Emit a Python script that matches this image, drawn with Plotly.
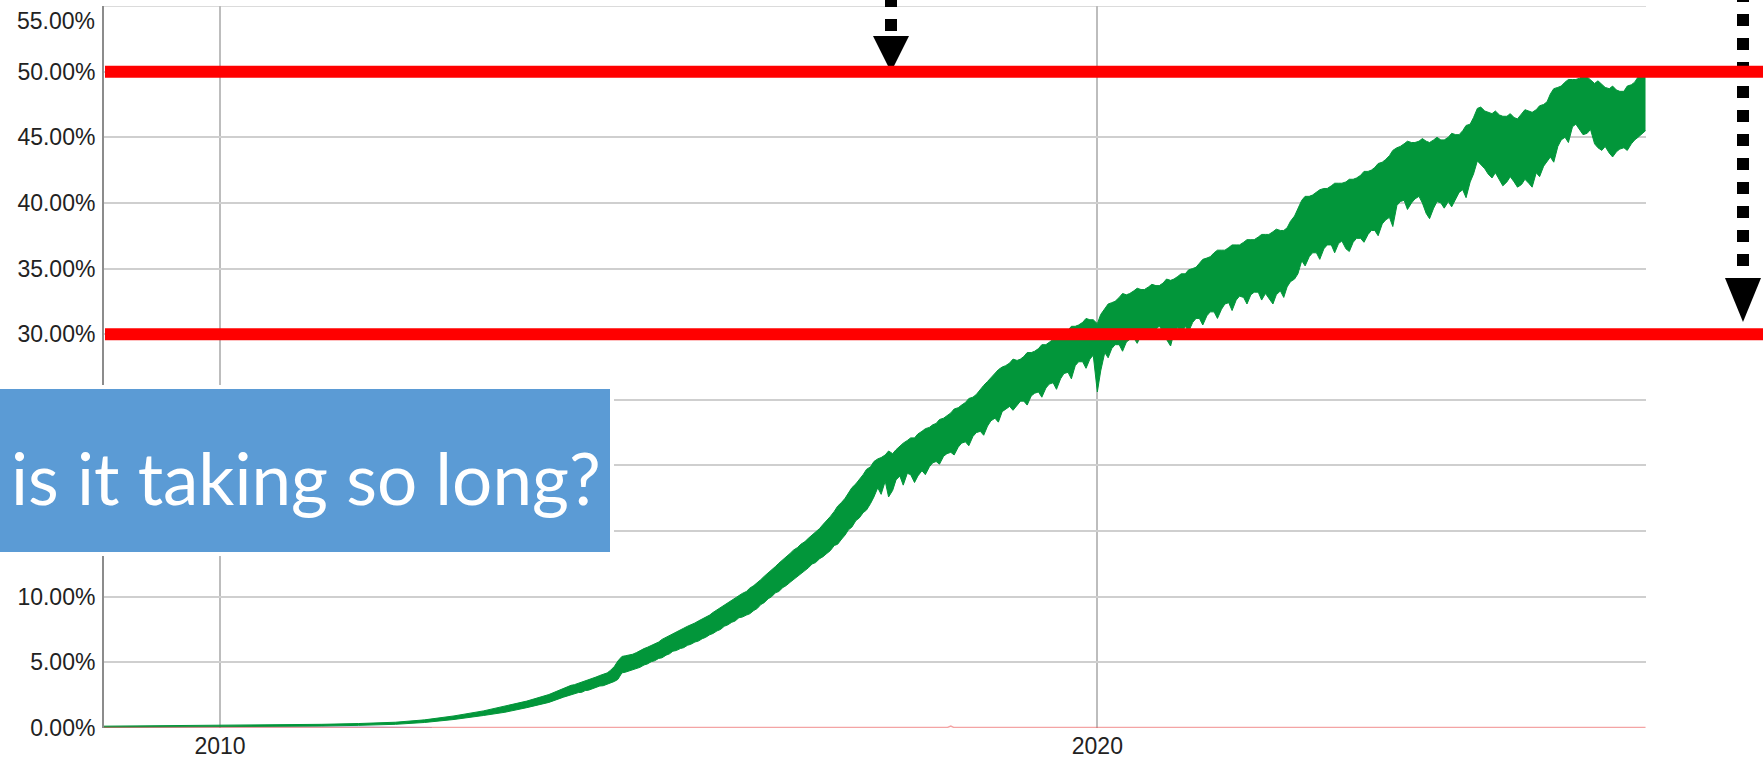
import plotly.graph_objects as go

# ---------------- data ----------------
# early period, irregular dates
early_dates = ["2008-09-05","2009-02-01","2009-07-01","2009-12-01","2010-05-01","2010-10-01",
               "2011-03-01","2011-08-01","2012-01-01","2012-05-01","2012-09-01","2013-01-01",
               "2013-04-01","2013-07-01","2013-10-01","2013-12-01"]
early_low  = [0.05,0.06,0.08,0.09,0.10,0.12,0.15,0.20,0.28,0.42,0.65,0.95,1.20,1.55,1.95,2.35]
early_high = [0.14,0.16,0.17,0.20,0.22,0.24,0.28,0.34,0.44,0.62,0.92,1.30,1.65,2.05,2.55,3.05]

# envelope on the 1st of each month, Jan 2014 .. Apr 2026
monthly_low = [
    2.55,2.70,2.85,3.00,3.20,3.35,3.55,4.20,4.35,4.55,4.80,5.05,          # 2014
    5.30,5.55,5.85,6.05,6.30,6.55,6.80,7.10,7.40,7.75,8.05,8.40,          # 2015
    8.60,8.95,9.40,9.85,10.30,10.70,11.10,11.55,12.00,12.50,12.90,13.30,  # 2016
    13.90,14.40,15.10,15.80,16.40,17.10,18.30,18.80,18.10,19.20,19.40,18.70,  # 2017
    19.60,19.90,20.30,20.70,21.00,21.40,21.80,22.20,22.60,23.00,23.60,24.10,  # 2018
    24.50,24.60,24.90,25.30,25.60,25.90,26.30,26.60,27.10,27.60,27.90,28.10,  # 2019
    25.60,28.60,28.90,29.20,29.40,29.70,29.90,30.10,30.40,30.20,29.10,30.50,  # 2020
    30.60,30.90,31.20,31.40,31.70,31.90,32.40,32.60,32.80,33.00,33.20,33.10,  # 2021
    32.30,33.30,33.60,34.20,35.60,35.90,36.20,36.50,36.80,36.90,36.50,37.00,  # 2022
    37.30,37.60,37.90,38.40,38.90,39.80,40.20,40.00,40.50,39.20,39.60,40.00,  # 2023
    40.10,40.30,41.00,41.60,43.20,42.60,41.90,41.80,41.60,41.60,41.40,41.50,  # 2024
    42.30,42.80,43.50,44.30,45.00,45.80,45.60,45.30,44.50,44.00,43.80,43.90,  # 2025
    44.20,44.50,45.00,45.50]                                                # 2026
monthly_high = [
    3.25,3.40,3.60,3.80,4.00,4.20,4.70,5.45,5.55,5.75,6.05,6.30,          # 2014
    6.55,6.90,7.20,7.45,7.75,8.00,8.30,8.60,9.00,9.40,9.75,10.10,         # 2015
    10.40,10.85,11.30,11.80,12.30,12.80,13.30,13.75,14.20,14.70,15.20,15.80,  # 2016
    16.50,17.20,17.90,18.60,19.30,19.90,20.50,20.80,20.90,21.50,21.90,22.10,  # 2017
    22.60,22.90,23.20,23.60,24.00,24.40,24.80,25.20,25.80,26.40,27.00,27.50,  # 2018
    27.80,28.00,28.30,28.60,28.90,29.20,29.60,29.90,30.30,30.60,30.90,31.10,  # 2019
    30.80,31.90,32.40,32.80,33.00,33.30,33.40,33.60,33.70,33.90,34.10,34.40,  # 2020
    34.60,35.00,35.40,35.80,36.20,36.40,36.60,36.80,37.00,37.20,37.40,37.60,  # 2021
    37.80,37.90,38.10,39.00,40.20,40.50,40.80,41.10,41.30,41.50,41.60,41.80,  # 2022
    42.10,42.40,42.70,43.10,43.60,44.20,44.50,44.60,44.70,44.70,44.80,44.80,  # 2023
    45.00,45.20,45.50,46.00,47.20,47.00,46.80,46.70,46.60,46.50,46.80,47.00,  # 2024
    47.10,47.50,48.30,48.80,49.20,49.40,49.50,49.60,49.10,49.00,48.70,48.60,  # 2025
    48.50,49.00,49.60,50.00]                                                # 2026

# envelope on the 15th of each month, Jan 2014 .. Mar 2026 (weekly swings)
mid_low = [
    2.58,2.72,2.88,3.05,3.22,3.40,3.70,4.25,4.40,4.62,4.88,5.12,          # 2014
    5.35,5.65,5.90,6.12,6.38,6.62,6.90,7.20,7.50,7.85,8.15,8.45,          # 2015
    8.70,9.10,9.55,10.00,10.40,10.85,11.30,11.70,12.20,12.60,13.05,13.50, # 2016
    14.00,14.70,15.30,16.00,16.60,17.60,17.80,17.60,18.90,18.50,19.30,19.20,  # 2017
    19.30,20.20,20.10,20.90,20.80,21.70,21.50,22.50,22.30,23.40,23.30,24.30,  # 2018
    24.20,24.90,24.60,25.50,25.20,26.20,25.80,27.00,26.60,27.90,27.40,28.40,  # 2019
    27.20,28.20,29.20,28.70,29.60,29.30,30.20,29.70,30.60,29.60,30.10,30.00,  # 2020
    30.20,31.20,30.70,31.70,31.20,32.30,31.80,32.90,32.30,33.20,32.60,32.70,  # 2021
    33.00,32.80,34.00,34.60,35.20,36.20,35.70,36.80,36.20,37.10,36.30,37.30,  # 2022
    37.00,37.90,37.50,38.70,38.20,40.10,39.50,40.30,40.00,38.80,40.10,39.60,  # 2023
    39.70,40.80,40.40,42.20,42.90,42.20,42.30,41.30,42.00,41.20,41.80,41.20,  # 2024
    42.00,43.20,43.10,44.80,44.60,46.00,45.20,45.60,44.20,44.30,43.50,44.10,  # 2025
    44.00,44.80,45.20]                                                      # 2026
mid_high = [
    3.30,3.48,3.68,3.88,4.08,4.40,5.10,5.50,5.62,5.90,6.15,6.42,          # 2014
    6.75,7.05,7.30,7.60,7.85,8.15,8.45,8.80,9.20,9.55,9.95,10.25,         # 2015
    10.65,11.05,11.55,12.05,12.55,13.05,13.55,14.00,14.45,14.95,15.50,16.10,  # 2016
    16.90,17.50,18.30,18.90,19.70,20.30,20.60,21.10,21.20,21.70,22.10,22.40,  # 2017
    22.80,23.10,23.50,23.80,24.30,24.60,25.10,25.40,26.10,26.70,27.30,27.60,  # 2018
    28.10,28.10,28.60,28.70,29.20,29.40,29.90,30.10,30.60,30.70,31.20,31.10,  # 2019
    31.50,32.30,32.50,33.10,33.10,33.50,33.40,33.80,33.70,34.20,34.20,34.60,  # 2020
    34.90,35.10,35.70,35.90,36.40,36.40,36.80,36.80,37.20,37.20,37.60,37.60,  # 2021
    38.00,37.90,38.60,39.60,40.50,40.60,41.00,41.10,41.50,41.50,41.80,41.90,  # 2022
    42.40,42.50,43.00,43.30,44.00,44.30,44.70,44.60,44.90,44.60,45.00,44.80,  # 2023
    45.30,45.20,45.90,46.50,47.30,46.90,47.00,46.60,46.80,46.40,47.10,46.90,  # 2024
    47.40,47.70,48.70,48.90,49.40,49.40,49.70,49.40,49.30,48.80,48.90,48.50,  # 2025
    48.90,49.20,49.90]                                                      # 2026

# interleave 1st-of-month and 15th-of-month readings
dates, ipv6_low, ipv6_high = list(early_dates), list(early_low), list(early_high)
for i in range(len(monthly_low)):
    yr, mo = 2014 + i // 12, i % 12 + 1
    dates.append("%d-%02d-01" % (yr, mo))
    ipv6_low.append(monthly_low[i])
    ipv6_high.append(monthly_high[i])
    if i < len(mid_low):
        dates.append("%d-%02d-15" % (yr, mo))
        ipv6_low.append(mid_low[i])
        ipv6_high.append(mid_high[i])

# faint secondary series near zero
other_dates = ["2008-09-05","2010-01-01","2012-01-01","2014-01-01","2016-01-01",
               "2018-04-15","2018-05-01","2018-05-15","2020-01-01","2023-01-01","2026-04-01"]
other_red = [0.03,0.03,0.03,0.03,0.03,0.03,0.15,0.03,0.03,0.03,0.03]
blue_dates = ["2008-09-05","2009-06-01","2010-03-01","2011-01-01","2011-09-01","2012-06-01"]
blue_vals = [0.06,0.09,0.12,0.10,0.07,0.02]

y_ticks = [0,5,10,15,20,25,30,35,40,45,50]
hidden_ticks = [15, 20, 25]          # covered by the blue box in the picture
y_tick_text = ["" if v in hidden_ticks else "%.2f%%" % v for v in y_ticks]
top_label = "55.00%"
y_max = 55
x_ticks = ["2010-01-01","2020-01-01"]
x_tick_text = ["2010","2020"]
ref_lines = [50, 30]
box_text = "is it taking so long?"

# ---------------- layout geometry (pixels) ----------------
W, H = 1763, 759
L, R, T, B = 104, 117, 6, 31
PW, PH = W - L - R, H - T - B

def px(x):
    return (x - L) / PW

def py(y):
    return (H - B - y) / PH

GREEN = "#02963A"
TICKFONT = dict(family="Liberation Sans, Arial, sans-serif", size=23, color="#222")

fig = go.Figure()
fig.add_trace(go.Scatter(x=blue_dates, y=blue_vals, mode="lines",
                         line=dict(color="rgba(120,150,230,0.45)", width=1.5),
                         hoverinfo="skip", showlegend=False))
fig.add_trace(go.Scatter(x=dates, y=ipv6_low, mode="lines",
                         line=dict(color=GREEN, width=1), showlegend=False))
fig.add_trace(go.Scatter(x=dates, y=ipv6_high, mode="lines", fill="tonexty",
                         fillcolor=GREEN, line=dict(color=GREEN, width=1),
                         showlegend=False))
fig.add_trace(go.Scatter(x=other_dates, y=other_red, mode="lines",
                         line=dict(color="rgba(235,90,90,0.55)", width=1.5),
                         hoverinfo="skip", showlegend=False))

shapes = []
# top gridline (55%)
shapes.append(dict(type="line", xref="paper", yref="y", x0=0, x1=1, y0=y_max, y1=y_max,
                   line=dict(color="#CFCFCF", width=1.5), layer="below"))
# dotted arrows (drawn first so red lines cover them)
dash = "12px,12px"
shapes.append(dict(type="line", xref="paper", yref="paper",
                   x0=px(891), x1=px(891), y0=py(-5), y1=py(31),
                   line=dict(color="black", width=12, dash=dash), layer="above"))
shapes.append(dict(type="path", xref="paper", yref="paper",
                   path="M %f %f L %f %f L %f %f Z" % (px(873), py(36), px(909), py(36), px(891), py(72)),
                   fillcolor="black", line=dict(width=0), layer="above"))
shapes.append(dict(type="line", xref="paper", yref="paper",
                   x0=px(1743), x1=px(1743), y0=py(-10), y1=py(266),
                   line=dict(color="black", width=12, dash=dash), layer="above"))
shapes.append(dict(type="path", xref="paper", yref="paper",
                   path="M %f %f L %f %f L %f %f Z" % (px(1725), py(278), px(1761), py(278), px(1743), py(322)),
                   fillcolor="black", line=dict(width=0), layer="above"))
# red reference lines
for v in ref_lines:
    shapes.append(dict(type="line", xref="paper", yref="y",
                       x0=px(105), x1=px(W + 5), y0=v, y1=v,
                       line=dict(color="#FF0000", width=12), layer="above"))
# blue text box with white surround
shapes.append(dict(type="rect", xref="paper", yref="paper",
                   x0=px(-5), x1=px(614), y0=py(385), y1=py(556),
                   fillcolor="white", line=dict(width=0), layer="above"))
shapes.append(dict(type="rect", xref="paper", yref="paper",
                   x0=px(-5), x1=px(610), y0=py(389), y1=py(552),
                   fillcolor="#5B9BD5", line=dict(width=0), layer="above"))

fig.update_layout(
    width=W, height=H,
    margin=dict(l=L, r=R, t=T, b=B, pad=0, autoexpand=False),
    paper_bgcolor="white", plot_bgcolor="white",
    shapes=shapes,
    annotations=[
        dict(text=box_text, xref="paper", yref="paper",
             x=px(9), y=py(477), xanchor="left", yanchor="middle", showarrow=False,
             font=dict(family="Lato, Open Sans, sans-serif", size=71, color="white")),
        dict(text=top_label, xref="paper", yref="paper",
             x=px(97), y=py(21), xanchor="right", yanchor="middle", showarrow=False,
             font=TICKFONT),
    ],
    xaxis=dict(type="date", range=["2008-09-05", "2026-04-03"], automargin=False,
               tickvals=x_ticks, ticktext=x_tick_text,
               showgrid=True, gridcolor="#BDBDBD", gridwidth=1.5,
               showline=False, zeroline=False, ticks="", ticklabelstandoff=2,
               tickfont=TICKFONT),
    yaxis=dict(range=[0, y_max], tickvals=y_ticks, ticktext=y_tick_text, automargin=False,
               showgrid=True, gridcolor="#CFCFCF", gridwidth=1.5,
               showline=True, linecolor="#8C8C8C", linewidth=2,
               zeroline=False, ticks="", ticklabelstandoff=2,
               tickfont=TICKFONT),
)

fig.write_html("out.html", config={"displayModeBar": False},
               post_script="document.body.style.margin='0px';document.body.style.overflow='hidden';")
